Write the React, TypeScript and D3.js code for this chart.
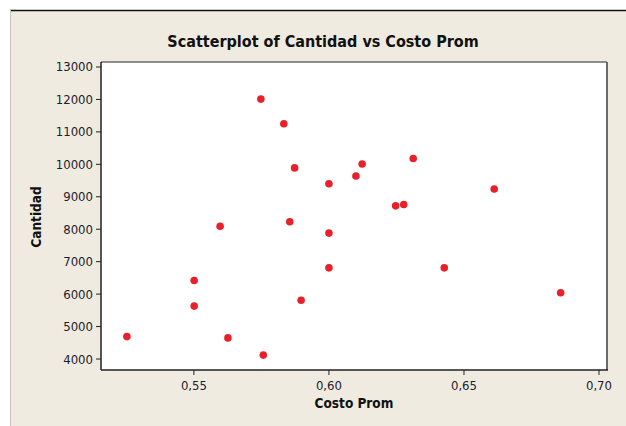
import React from "react";
import * as d3 from "d3";

const costo: number[] = [0.5252, 0.5501, 0.5501, 0.5597, 0.5626, 0.5748, 0.5757, 0.5833, 0.5855, 0.5873, 0.5897, 0.6, 0.6, 0.6, 0.61, 0.6123, 0.6247, 0.6277, 0.6312, 0.6427, 0.6612, 0.6858];
const cantidad: number[] = [4690, 6420, 5630, 8090, 4650, 12010, 4120, 11250, 8230, 9890, 5810, 9400, 7880, 6810, 9640, 10010, 8720, 8760, 10180, 6810, 9240, 6040];
const xTicks: number[] = [0.55, 0.6, 0.65, 0.7];
const yTicks: number[] = [4000, 5000, 6000, 7000, 8000, 9000, 10000, 11000, 12000, 13000];

const W = 626;
const H = 426;
const plot = { left: 101, top: 62, right: 607, bottom: 370 };
const FONT = "'DejaVu Sans Condensed', 'DejaVu Sans', sans-serif";

export default function App() {
  const x = d3.scaleLinear().domain([0.5156, 0.70296]).range([plot.left, plot.right]);
  const y = d3.scaleLinear().domain([3661, 13154]).range([plot.bottom, plot.top]);
  const fmtX = (v: number) => d3.format(".2f")(v).replace(".", ",");
  const textColor = "#1c1c2c";
  return (
    <svg width={W} height={H} style={{ position: "absolute", left: 0, top: 0 }}>
      <rect x={0} y={0} width={W} height={H} fill="#ffffff" />
      <rect x={10} y={10} width={W} height={H} fill="#EFEBE0" />
      <line x1={10} y1={10.5} x2={W} y2={10.5} stroke="#111" strokeWidth={1.5} />
      <line x1={10.5} y1={10} x2={10.5} y2={H} stroke="#c8c4bb" strokeWidth={1} />
      <text x={323} y={47} textAnchor="middle" fontFamily={FONT} fontWeight="bold" fontSize={16} fill="#111">
        Scatterplot of Cantidad vs Costo Prom
      </text>
      <rect x={plot.left} y={plot.top} width={plot.right - plot.left} height={plot.bottom - plot.top} fill="#ffffff" />
      <line x1={plot.left} y1={plot.top} x2={plot.right} y2={plot.top} stroke="#6a6a6a" strokeWidth={1.5} />
      <line x1={plot.right} y1={plot.top} x2={plot.right} y2={plot.bottom} stroke="#6a6a6a" strokeWidth={2} />
      <line x1={plot.left} y1={plot.bottom} x2={plot.right + 1} y2={plot.bottom} stroke="#222" strokeWidth={1.5} />
      <line x1={plot.left} y1={plot.top} x2={plot.left} y2={plot.bottom} stroke="#222" strokeWidth={1.5} />
      {yTicks.map((t) => (
        <g key={t}>
          <line x1={plot.left - 5} x2={plot.left} y1={y(t)} y2={y(t)} stroke="#222" strokeWidth={1} />
          <text x={plot.left - 8} y={y(t) + 4.5} textAnchor="end" fontFamily={FONT} fontSize={13} fill={textColor}>
            {t}
          </text>
        </g>
      ))}
      {xTicks.map((t) => (
        <g key={t}>
          <line x1={x(t)} x2={x(t)} y1={plot.bottom} y2={plot.bottom + 5} stroke="#222" strokeWidth={1} />
          <text x={x(t)} y={389.5} textAnchor="middle" fontFamily={FONT} fontSize={13} fill={textColor}>
            {fmtX(t)}
          </text>
        </g>
      ))}
      <text x={354} y={408} textAnchor="middle" fontFamily={FONT} fontWeight="bold" fontSize={13.5} fill="#111">
        Costo Prom
      </text>
      <text transform={`translate(41,217) rotate(-90)`} textAnchor="middle" fontFamily={FONT} fontWeight="bold" fontSize={13.5} fill="#111">
        Cantidad
      </text>
      {costo.map((c, i) => (
        <circle key={i} cx={x(c)} cy={y(cantidad[i])} r={3.8} fill="#E8202A" />
      ))}
    </svg>
  );
}
